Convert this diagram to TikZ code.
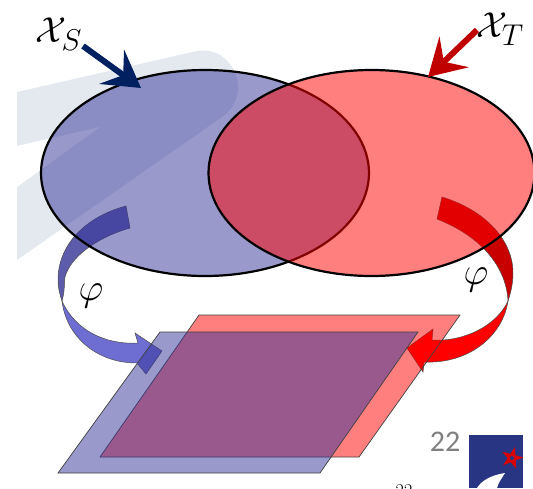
\documentclass[tikz,border=0pt]{standalone}
\usepackage{amsmath,amssymb}
\usepackage{fontspec}
\usepackage{tikz}
\usetikzlibrary{arrows.meta,shapes.geometric}
\newfontfamily\pagefont{Carlito}
\definecolor{srcBlue}{RGB}{51,51,153}
\definecolor{srcBand}{RGB}{92,92,170}
\definecolor{srcHead}{RGB}{110,110,210}
\definecolor{srcNavy}{RGB}{0,32,96}
\definecolor{tgtDark}{RGB}{200,0,0}
\definecolor{tgtArrow}{RGB}{192,0,0}
\definecolor{swoosh}{RGB}{227,233,239}
\definecolor{logoBlue}{RGB}{40,53,131}
\tikzset{
  spaceset/.style={draw=black,line width=2.2pt,fill opacity=.5,draw opacity=1},
  latent/.style={draw=black!75,line width=.7pt,fill opacity=.5,draw opacity=1},
  band/.style={draw=black!70,line width=.5pt},
  bigarrow/.style={line width=6pt,-{Stealth[length=36pt,width=42pt,inset=14pt]}},
  setlabel/.style={font=\Huge,scale=1.45,transform shape},
  maplabel/.style={font=\Huge,scale=1.55,transform shape}
}
\begin{document}
\begin{tikzpicture}[x=1pt,y=-1pt]
\useasboundingbox (0,0) rectangle (533,488);
% background of the slide
\fill[swoosh] (17,92) -- (197,51) .. controls (222,47) and (238,68) .. (238,87)
  .. controls (238,100) and (232,110) .. (222,117) -- (17,260) -- cycle;
\fill[white] (17,146) -- (100,127) -- (17,187) -- cycle;
% curved maps, under everything else
\draw[band,fill=srcBand] (126,206) .. controls (85,217) and (58,245) .. (58,280)
  .. controls (58,288) and (60,295) .. (62,301)
  .. controls (65,290) and (64,285) .. (65,277) .. controls (70,258) and (95,238) .. (130,228) -- cycle;
\draw[band,fill=srcHead] (62,301) .. controls (66,335) and (95,363) .. (137,363)
  -- (146,374) -- (162,351) -- (135,333) -- (138,343)
  .. controls (105,345) and (75,330) .. (62,301) -- cycle;
\draw[band,fill=tgtDark] (442,197) .. controls (485,210) and (513,240) .. (513,273)
  .. controls (513,283) and (511,292) .. (508,301)
  .. controls (507,275) and (490,240) .. (437,219) -- cycle;
\draw[band,fill=red] (508,301) .. controls (503,335) and (470,364) .. (424,362)
  -- (423,372) -- (407,348) -- (433,329) -- (432,340)
  .. controls (465,342) and (497,325) .. (508,301) -- cycle;
% feature spaces and latent planes
\draw[spaceset,fill=srcBlue] (205,173) ellipse (164pt and 103pt);
\draw[spaceset,fill=red] (371.5,173) ellipse (163pt and 103pt);
\draw[latent,fill=red] (199,315) -- (460,315) -- (359,457) -- (100,457) -- cycle;
\draw[latent,fill=srcBlue] (160,332) -- (418,332) -- (320,473) -- (58,473) -- cycle;
% labels
\node[setlabel] (xs) at (59,34) {$\mathcal{X}_S$};
\node[setlabel] (xt) at (500,29) {$\mathcal{X}_T$};
\coordinate (xsTip) at (141,88);
\coordinate (xtTip) at (428,77);
\coordinate (xsFoot) at (83,46);
\coordinate (xtFoot) at (477,30);
\draw[bigarrow,srcNavy] (xsFoot) -- (xsTip);
\draw[bigarrow,tgtArrow] (xtFoot) -- (xtTip);
\node[maplabel] (phiS) at (91,296) {$\varphi$};
\node[maplabel] (phiT) at (476,280) {$\varphi$};
% page furniture
\node[font=\pagefont\fontsize{30}{30}\selectfont,text=black!50] (pageNo) at (445,442) {22};
\fill[logoBlue] (469,435) rectangle (523,488);
\node[star,star points=5,star point ratio=2.6,fill=red!85!black,
  minimum size=23pt,inner sep=0pt,rotate=-15] (logoStar) at (512,458) {};
\fill[logoBlue] (logoStar.center) circle (2pt);
\fill[white] (477,488) .. controls (482,480) and (492,475) .. (505,473)
  .. controls (502,478) and (498,483) .. (497,488) -- cycle;
\node[font=\fontsize{18}{18}\selectfont] (footNo) at (404,491) {22};
\end{tikzpicture}
\end{document}
